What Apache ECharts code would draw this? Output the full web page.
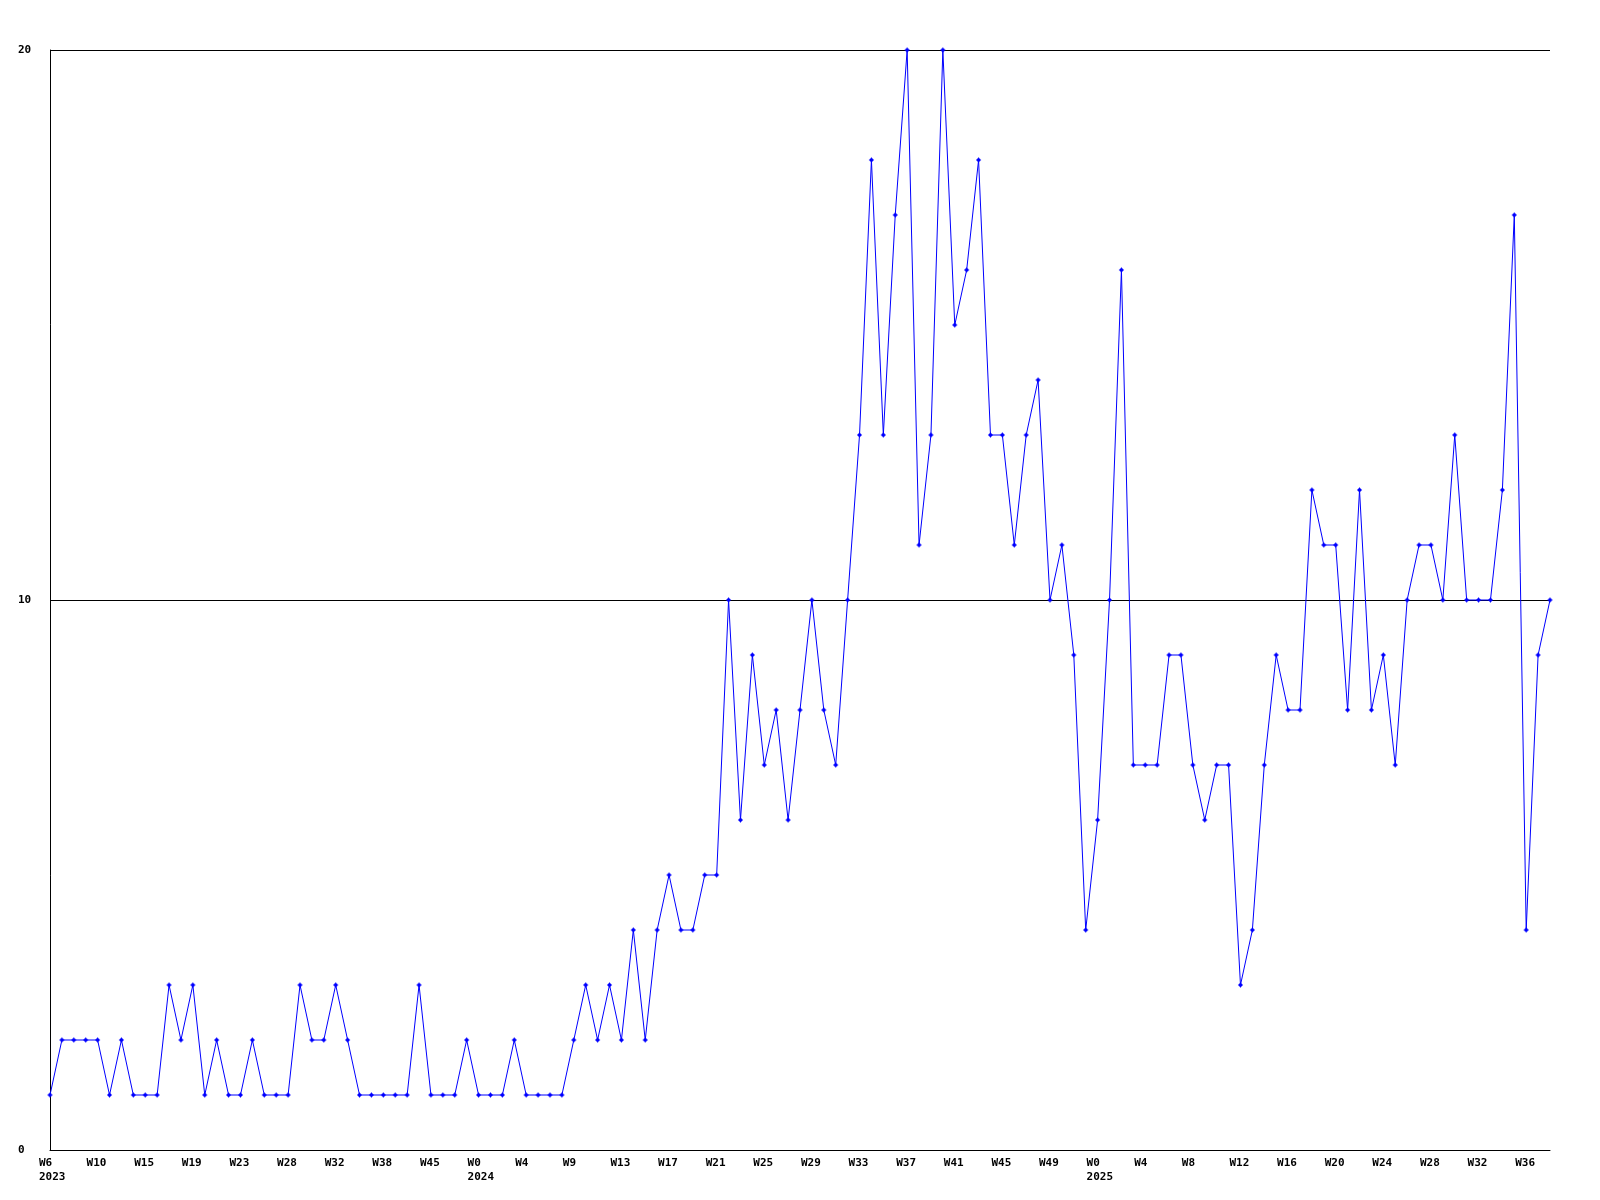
<!DOCTYPE html>
<html>
<head>
<meta charset="utf-8">
<style>
  html, body { margin: 0; padding: 0; background: #ffffff; }
  #chart { width: 1600px; height: 1200px; }
</style>
<script src="https://cdn.jsdelivr.net/npm/echarts@6/dist/echarts.min.js"></script>
</head>
<body>
<div id="chart"></div>
<script>
// Week categories (year + week label)
const weeks2023 = ["W6","W7","W8","W9","W10","W11","W12","W14","W15","W16","W17","W18",
  "W19","W20","W21","W22","W23","W24","W26","W27","W28","W29","W30","W31",
  "W32","W33","W35","W36","W38","W40","W41","W43","W45","W47","W49","W51"];
const weeks2024 = ["W0","W1","W2","W3","W4","W5","W6","W8","W9","W10","W11","W12",
  "W13","W14","W15","W16","W17","W18","W19","W20","W21","W22","W23","W24",
  "W25","W26","W27","W28","W29","W30","W31","W32","W33","W34","W35","W36",
  "W37","W38","W39","W40","W41","W42","W43","W44","W45","W46","W47","W48",
  "W49","W50","W51","W52"];
const weeks2025 = ["W0","W1","W2","W3","W4","W5","W6","W7","W8","W9","W10","W11","W12",
  "W13","W14","W15","W16","W17","W18","W19","W20","W21","W22","W23","W24",
  "W25","W26","W27","W28","W29","W30","W31","W32","W33","W34","W35","W36","W37","W38"];

// Series values
const values2023 = [1,2,2,2,2,1,2,1,1,1,3,2,3,1,2,1,1,2,1,1,1,3,2,2,3,2,1,1,1,1,1,3,1,1,1,2];
const values2024 = [1,1,1,2,1,1,1,1,2,3,2,3,2,4,2,4,5,4,4,5,5,10,6,9,7,8,6,8,10,8,7,10,
  13,18,13,17,20,11,13,20,15,16,18,13,13,11,13,14,10,11,9,4];
const values2025 = [6,10,16,7,7,7,9,9,7,6,7,7,3,4,7,9,8,8,12,11,11,8,12,8,9,7,10,11,11,10,
  13,10,10,10,12,17,4,9,10];

// Y tick labels
const yTicks = [0, 10, 20];

const categories = [];
weeks2023.forEach(w => categories.push("2023 " + w));
weeks2024.forEach(w => categories.push("2024 " + w));
weeks2025.forEach(w => categories.push("2025 " + w));
const values = values2023.concat(values2024, values2025);

const chart = echarts.init(document.getElementById('chart'), null, { renderer: 'canvas' });
const labelFont = { fontFamily: 'DejaVu Sans Mono', fontWeight: 'bold', fontSize: 11, color: '#000000' };

chart.setOption({
  animation: false,
  backgroundColor: '#ffffff',
  grid: { left: 50, right: 50, top: 50, bottom: 50, containLabel: false },
  xAxis: {
    type: 'category',
    data: categories,
    boundaryGap: false,
    axisLine: { show: true, lineStyle: { color: '#000000', width: 1 } },
    axisTick: { show: false },
    splitLine: { show: false },
    axisLabel: {
      interval: 3,
      margin: 6,
      align: 'center',
      formatter: function (val, idx) {
        const parts = val.split(' ');
        const prev = idx > 0 ? categories[idx - 1].split(' ')[0] : null;
        let s = '{w|' + parts[1] + '}';
        if (idx === 0 || prev !== parts[0]) s += '\n{w|' + parts[0] + '}';
        return s;
      },
      rich: {
        w: Object.assign({ width: 22, align: 'left', lineHeight: 14 }, labelFont)
      }
    }
  },
  yAxis: {
    type: 'value',
    min: yTicks[0],
    max: yTicks[yTicks.length - 1],
    interval: yTicks[1] - yTicks[0],
    axisLine: { show: true, lineStyle: { color: '#000000', width: 1 } },
    axisTick: { show: false },
    splitLine: { show: true, lineStyle: { color: '#000000', width: 1 } },
    axisLabel: Object.assign({ align: 'left', margin: 32 }, labelFont)
  },
  series: [{
    type: 'line',
    data: values,
    clip: false,
    symbol: 'path://M2,0 H3 V1 H4 V2 H5 V3 H4 V4 H3 V5 H2 V4 H1 V3 H0 V2 H1 V1 H2 Z',
    symbolSize: 5,
    showSymbol: true,
    itemStyle: { color: '#0000ff' },
    lineStyle: { color: '#0000ff', width: 1 }
  }]
});
</script>
</body>
</html>
